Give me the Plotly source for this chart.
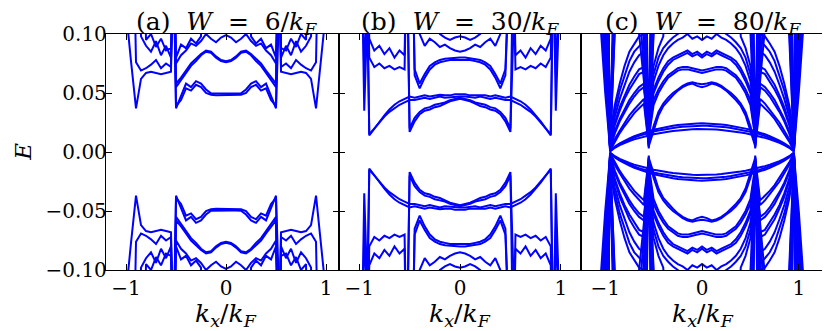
import plotly.graph_objects as go

# half grid of kx/kF values (bands are symmetric in kx and in E -> -E)
K = [0.0, 0.05, 0.1, 0.15, 0.2, 0.25, 0.3, 0.35, 0.4, 0.45, 0.5, 0.55,
     0.6, 0.65, 0.7, 0.75, 0.8, 0.85, 0.9, 0.95, 1.0, 1.05]
H = 0.3  # band value above the plotted window

# ---- panel (a) W = 6/kF : E>0 bands for kx >= 0
a1 = [.0495, .0495, .0495, .0497, .053, .058, .06, .055, .058, .047, .037, H, H, H, H, H, H, H, H, H, H, H]
a2 = [.048, .048, .048, .0485, .05, .055, .057, .052, .054, .044, .039, H, H, H, H, H, H, H, H, H, H, H]
a3 = [.077, .078, .081, .085, .086, .083, .079, .075, .069, .063, .058, H, H, H, H, H, H, H, H, H, H, H]
a4 = [.076, .077, .08, .084, .085, .082, .077, .073, .067, .061, .055, H, H, H, H, H, H, H, H, H, H, H]
a5 = [.099, .097, .093, .096, .1, .094, .09, .092, .086, .082, .075, H, H, H, H, H, H, H, H, H, H, H]
a6 = [H, H, H, H, H, H, H, H, H, H, H, .068, .067, .066, .067, .068, .067, .062, .037, .077, .12, H]
a7 = [H, H, H, H, H, H, H, H, H, H, H, .072, .075, .071, .078, .074, .071, .069, .076, H, H, H]
a8 = [H, H, H, H, H, H, H, H, H, H, H, .08, .09, .082, .094, .085, .09, .098, H, H, H, H]
a9 = [H, H, H, H, H, H, H, H, H, H, H, .088, .086, .096, .089, .1, .095, H, H, H, H, H]
a10 = [H, H, H, H, H, .098, .092, .096, .088, .091, .08, H, H, H, H, H, H, H, H, H, H, H]
bands_a = [a1, a2, a3, a4, a5, a6, a7, a8, a9, a10]

# ---- panel (b) W = 30/kF
b1 = [.049, .049, .048, .048, .0485, .048, .047, .048, .047, .046, .047, .045, .043, .04, .036, .031, .026, .02, .014, H, H, H]
b2 = [.047, .047, .0465, .046, .047, .046, .045, .046, .045, .044, .044, .042, .04, .037, .034, .03, .025, .02, .015, H, H, H]
b3 = [.045, .044, .043, .041, .039, .038, .036, .035, .032, .026, .017, H, H, H, H, H, H, H, H, H, H, H]
b4 = [.046, .045, .044, .042, .041, .04, .038, .037, .034, .029, .02, H, H, H, H, H, H, H, H, H, H, H]
b5 = [H, H, H, H, H, H, H, H, H, H, H, .07, .072, .07, .073, .071, .075, .072, .08, H, H, H]
b6 = [H, H, H, H, H, H, H, H, H, H, H, .082, .086, .08, .088, .083, .09, .086, .096, H, H, H]
b7 = [H, H, H, H, H, H, H, H, H, H, H, H, H, H, H, H, H, H, H, .035, H, H]
b8 = [H, H, H, H, H, H, H, H, H, H, H, H, H, H, H, H, H, H, H, .065, H, H]
b9 = [.078, .078, .078, .077, .076, .074, .07, .063, .054, .065, H, H, H, H, H, H, H, H, H, H, H, H]
b10 = [.08, .08, .0795, .079, .078, .076, .073, .066, .058, .07, H, H, H, H, H, H, H, H, H, H, H, H]
b11 = [.085, .086, .088, .091, .089, .093, .096, .09, .1, H, H, H, H, H, H, H, H, H, H, H, H, H]
b12 = [.098, .097, .095, .097, .1, H, H, H, H, H, H, H, H, H, H, H, H, H, H, H, H, H]
bands_b = [b1, b2, b3, b4, b5, b6, b7, b8, b9, b10, b11, b12]

# ---- panel (c) W = 80/kF
c1 = [.0243, .0242, .024, .0237, .0233, .0228, .0222, .0215, .0207, .0198, .0188, .0177, .0164, .015, .0134, .0116, .0096, .0073, .0046, .0008, H, H]
c2 = [.0223, .0222, .022, .0217, .0214, .0209, .0204, .0197, .019, .0182, .0173, .0163, .015, .0137, .0123, .0106, .0088, .0067, .0042, .0006, H, H]
c3 = [.0195, .0195, .0193, .019, .0187, .0183, .0178, .0172, .0166, .0159, .015, .014, .013, .012, .0107, .0093, .0077, .0058, .0036, .0005, H, H]
c4 = [.055, .056, .058, .057, .055, .052, .048, .044, .039, .031, .018, .005, .041, .037, .033, .028, .022, .016, .009, .001, H, H]
c5 = [.0575, .058, .059, .058, .056, .053, .05, .046, .041, .034, .022, .007, .045, .041, .036, .031, .025, .018, .011, .002, H, H]
c6 = [.067, .068, .069, .07, .07, .069, .066, .063, .057, .05, .04, .012, .055, .052, .047, .041, .034, .026, .016, .003, H, H]
c7 = [.069, .07, .071, .072, .072, .071, .068, .065, .06, .053, .044, .015, .058, .055, .05, .044, .036, .028, .018, .004, H, H]
c8 = [.08, .083, .081, .084, .082, .08, .078, .074, .068, .06, .05, .02, .068, .066, .06, .053, .045, .035, .023, .006, H, H]
c9 = [.082, .085, .083, .086, .084, .082, .08, .077, .071, .063, .053, .024, .072, .07, .064, .057, .048, .038, .025, .008, H, H]
c10 = [.095, .098, .096, .1, .097, .095, .092, .088, .082, .073, .06, .03, .085, .082, .076, .068, .057, .045, .03, .01, H, H]
c11 = [.105, .104, .106, .105, .103, .1, .097, .093, .088, .08, .066, .035, .094, .09, .085, .077, .065, .052, .035, .012, H, H]
c12 = [H, H, H, H, H, H, H, H, .098, .088, .073, .04, .1, .098, .092, .085, .073, .058, .04, .015, H, H]
cw1 = [H, H, H, H, H, H, H, H, H, H, .12, .006, .07, .13, H, H, H, H, H, H, H, H]
cw2 = [H, H, H, H, H, H, H, H, H, H, .2, .008, .09, .2, H, H, H, H, H, H, H, H]
cw3 = [H, H, H, H, H, H, H, H, H, H, H, .01, .12, H, H, H, H, H, H, H, H, H]
cw4 = [H, H, H, H, H, H, H, H, H, H, .15, .003, .15, H, H, H, H, H, H, H, H, H]
cw5 = [H, H, H, H, H, H, H, H, H, H, .25, .012, .25, H, H, H, H, H, H, H, H, H]
cw6 = [H, H, H, H, H, H, H, H, H, .2, .1, .004, .06, .1, .15, H, H, H, H, H, H, H]
cf1 = [H, H, H, H, H, H, H, H, H, H, H, H, H, H, H, H, H, H, .1, .003, .1, H]
cf2 = [H, H, H, H, H, H, H, H, H, H, H, H, H, H, H, H, H, H, .15, .005, .13, H]
cf3 = [H, H, H, H, H, H, H, H, H, H, H, H, H, H, H, H, H, H, .2, .002, .08, .2]
cf4 = [H, H, H, H, H, H, H, H, H, H, H, H, H, H, H, H, H, H, H, .004, .2, H]
cf5 = [H, H, H, H, H, H, H, H, H, H, H, H, H, H, H, H, H, H, .12, .006, .06, .12]
cf6 = [H, H, H, H, H, H, H, H, H, H, H, H, H, H, H, H, H, H, .25, .003, .05, .11]
cf7 = [H, H, H, H, H, H, H, H, H, H, H, H, H, H, H, H, H, H, .11, .001, .07, .14]
bands_c = [c1, c2, c3, c4, c5, c6, c7, c8, c9, c10, c11, c12,
           cw1, cw2, cw3, cw4, cw5, cw6, cf1, cf2, cf3, cf4, cf5, cf6, cf7]

NB = "\u00a0"
titles = ["(a)" + NB * 2 + "<i>W</i>" + NB * 2 + "=" + NB * 2 + "6/<i>k<sub>F</sub></i>",
          "(b)" + NB * 2 + "<i>W</i>" + NB * 2 + "=" + NB * 2 + "30/<i>k<sub>F</sub></i>",
          "(c)" + NB * 2 + "<i>W</i>" + NB * 2 + "=" + NB * 2 + "80/<i>k<sub>F</sub></i>"]
xranges = [[-1.2, 1.13], [-1.2, 1.2], [-1.25, 1.25]]
xdomains = [[0.0, 0.325], [0.325, 0.6625], [0.6625, 1.0]]
title_x = [0.1674, 0.4937, 0.8326]

FONT = "DejaVu Serif, serif"
BLUE = "#0000ff"


def full_curves(bands):
    xs, ys = [], []
    kx = [-k for k in reversed(K)] + K[1:]
    for b in bands:
        e = list(reversed(b)) + b[1:]
        for sgn in (1, -1):
            xs += kx + [None]
            ys += [sgn * v for v in e] + [None]
    return xs, ys


fig = go.Figure()
for i, bands in enumerate([bands_a, bands_b, bands_c]):
    xs, ys = full_curves(bands)
    sfx = "" if i == 0 else str(i + 1)
    fig.add_trace(go.Scatter(x=xs, y=ys, mode="lines",
                             line=dict(color=BLUE, width=2),
                             xaxis="x" + sfx, yaxis="y" + sfx,
                             showlegend=False, hoverinfo="skip"))

axis_common = dict(ticks="inside", ticklen=6, tickwidth=1, tickcolor="black",
                   showline=True, linecolor="black", linewidth=1.3, mirror="ticks",
                   showgrid=False, zeroline=False, automargin=False,
                   tickfont=dict(family=FONT, size=20, color="black"))
# the page adds an 8 px body margin, so the figure is 8 px smaller than the window
layout = dict(width=822, height=323, paper_bgcolor="white", plot_bgcolor="white",
              template="none",
              margin=dict(l=98, r=7, t=26, b=61, autoexpand=False), showlegend=False)
annotations = []
for i in range(3):
    sfx = "" if i == 0 else str(i + 1)
    layout["xaxis" + sfx] = dict(axis_common, domain=xdomains[i], range=xranges[i],
                                 tickvals=[-1, 0, 1], ticktext=["\u22121", "0", "1"],
                                 anchor="y" + sfx)
    layout["yaxis" + sfx] = dict(axis_common, domain=[0, 1], range=[-0.1, 0.1],
                                 tickvals=[-0.1, -0.05, 0, 0.05, 0.1],
                                 ticktext=["\u22120.10", "\u22120.05", "0.00", "0.05", "0.10"],
                                 showticklabels=(i == 0), anchor="x" + sfx)
    annotations.append(dict(text=titles[i], x=title_x[i], y=1.045, xref="paper", yref="paper",
                            showarrow=False, xanchor="center", yanchor="middle",
                            font=dict(family=FONT, size=25, color="black")))
    annotations.append(dict(text="<i>k<sub>x</sub></i>/<i>k<sub>F</sub></i>", x=title_x[i], y=-0.19,
                            xref="paper", yref="paper", showarrow=False,
                            xanchor="center", yanchor="middle",
                            font=dict(family=FONT, size=25, color="black")))
annotations.append(dict(text="<i>E</i>", x=-0.116, y=0.5, xref="paper", yref="paper",
                        showarrow=False, textangle=-90, xanchor="center", yanchor="middle",
                        font=dict(family=FONT, size=23, color="black")))
layout["annotations"] = annotations
fig.update_layout(**layout)
try:
    fig.update_yaxes(ticklabelstandoff=-6)
except Exception:
    pass
fig.write_html("out.html")
